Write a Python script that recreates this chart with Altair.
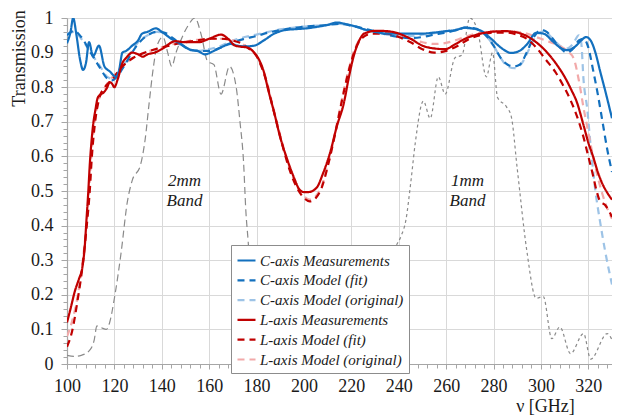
import altair as alt
import pandas as pd

# ---------------- data ----------------
SERIES = ["C-axis Measurements", "C-axis Model (fit)", "C-axis Model (original)",
          "L-axis Measurements", "L-axis Model (fit)", "L-axis Model (original)"]
COLORS = ["#1370BE", "#1370BE", "#9DC3E6", "#C00000", "#C00000", "#F2A9A9"]
DASHES = [[1, 0], [7, 5], [7, 5], [1, 0], [7, 5], [7, 5]]

F_C_MEAS = [100, 101.5, 102.6, 104, 105.5, 106.8, 108, 109.3, 111, 113.5, 115.8, 118, 120.7, 122,
            123.4, 125, 127.5, 130, 131.7, 134, 137.5, 140, 144, 148, 152.5, 155, 158.2, 162, 165,
            169, 172, 175, 179, 183, 187.5, 192, 197, 201, 206, 210, 213.7, 218, 222, 226, 230, 234,
            238.7, 244, 250, 255, 260, 264, 268, 271, 275, 279, 283, 287.5, 291, 294, 298, 301,
            305.4, 308, 311, 314, 317, 319, 321, 323, 325, 327.5, 330]
T_C_MEAS = [0.927, 0.96, 1.0, 0.95, 0.88, 0.85, 0.87, 0.93, 0.89, 0.92, 0.86, 0.846, 0.83, 0.85,
            0.9, 0.905, 0.92, 0.935, 0.955, 0.96, 0.97, 0.96, 0.94, 0.925, 0.907, 0.905, 0.895,
            0.905, 0.915, 0.925, 0.92, 0.918, 0.92, 0.935, 0.955, 0.965, 0.968, 0.97, 0.975, 0.98,
            0.987, 0.982, 0.975, 0.966, 0.96, 0.955, 0.955, 0.955, 0.955, 0.958, 0.962, 0.965,
            0.972, 0.97, 0.962, 0.94, 0.915, 0.899, 0.905, 0.923, 0.957, 0.955, 0.93, 0.915, 0.907,
            0.915, 0.935, 0.945, 0.935, 0.9, 0.846, 0.78, 0.71]

F_C_FIT = [100, 103, 106, 110, 114, 117, 119, 121, 124, 127, 130, 134, 138, 141, 145, 150, 155,
           160, 165, 170, 175, 180, 185, 190, 200, 210, 215, 220, 225, 230, 235, 240, 245, 250,
           255, 260, 265, 268, 272, 276, 280, 283, 286, 288.5, 291, 294, 297, 300, 302, 305, 308,
           311, 314, 316, 318, 320, 322, 324, 326, 328, 330]
T_C_FIT = [0.95, 0.963, 0.945, 0.9, 0.855, 0.825, 0.82, 0.83, 0.86, 0.895, 0.925, 0.95, 0.96,
           0.958, 0.94, 0.915, 0.905, 0.905, 0.915, 0.93, 0.94, 0.948, 0.958, 0.965, 0.975, 0.98,
           0.983, 0.978, 0.97, 0.962, 0.952, 0.945, 0.942, 0.945, 0.952, 0.958, 0.966, 0.972, 0.97,
           0.955, 0.92, 0.885, 0.865, 0.86, 0.865, 0.9, 0.945, 0.965, 0.962, 0.94, 0.915, 0.9,
           0.915, 0.935, 0.94, 0.915, 0.85, 0.78, 0.7, 0.62, 0.555]

F_C_ORIG = [100, 103, 106, 110, 114, 117, 119, 121, 124, 127, 130, 134, 138, 141, 145, 150, 155,
            160, 165, 170, 175, 180, 185, 190, 200, 210, 215, 220, 225, 230, 235, 240, 245, 250,
            255, 260, 265, 268, 272, 276, 280, 283, 286, 289, 292, 295, 298, 300, 302, 305, 308,
            311, 313.5, 316, 317, 318, 319.5, 321, 323, 325, 327, 330]
T_C_ORIG = [0.955, 0.96, 0.94, 0.9, 0.86, 0.83, 0.825, 0.835, 0.865, 0.9, 0.93, 0.95, 0.96, 0.955,
            0.935, 0.915, 0.905, 0.91, 0.92, 0.935, 0.945, 0.952, 0.96, 0.967, 0.975, 0.98, 0.983,
            0.978, 0.968, 0.96, 0.952, 0.948, 0.948, 0.952, 0.956, 0.962, 0.968, 0.97, 0.968,
            0.955, 0.92, 0.885, 0.86, 0.855, 0.87, 0.91, 0.95, 0.96, 0.958, 0.94, 0.92, 0.912,
            0.925, 0.95, 0.93, 0.82, 0.74, 0.63, 0.5, 0.41, 0.33, 0.23]

F_L_MEAS = [100, 101.5, 103.3, 105, 106.5, 107.5, 108.2, 109, 109.6, 110.3, 111, 112, 113, 114.4,
            115.5, 117, 118, 119, 120, 121.4, 123.4, 125, 127.5, 130, 132, 134, 137, 140, 145.7,
            150, 155.4, 160, 165, 168, 171, 173.4, 176, 179, 181, 183, 185, 187.5, 190, 193, 196,
            198, 200, 202, 205.4, 208, 211, 214, 216.7, 219, 220.8, 223, 225.4, 230.4, 235, 240,
            245, 250, 255, 259.6, 264, 268, 273, 279, 285, 290, 294, 298, 302, 306.7, 310, 313,
            315, 318, 320, 322, 324, 326, 328, 330]
T_L_MEAS = [0.12, 0.16, 0.21, 0.245, 0.28, 0.34, 0.415, 0.5, 0.575, 0.64, 0.69, 0.735, 0.77, 0.78,
            0.785, 0.8, 0.815, 0.81, 0.8, 0.823, 0.87, 0.885, 0.9, 0.895, 0.888, 0.895, 0.9, 0.91,
            0.933, 0.93, 0.93, 0.94, 0.952, 0.94, 0.92, 0.917, 0.915, 0.9, 0.88, 0.846, 0.79,
            0.725, 0.655, 0.59, 0.535, 0.505, 0.497, 0.497, 0.51, 0.55, 0.61, 0.69, 0.75, 0.83,
            0.885, 0.93, 0.955, 0.963, 0.962, 0.955, 0.94, 0.92, 0.912, 0.91, 0.925, 0.94, 0.952,
            0.96, 0.962, 0.958, 0.948, 0.93, 0.905, 0.865, 0.83, 0.79, 0.76, 0.69, 0.64, 0.6,
            0.555, 0.52, 0.495, 0.475]

F_L_FIT = [100, 102, 104.6, 106.5, 108.2, 109.6, 110.5, 111.7, 113.7, 116, 118, 120, 122, 125,
           128, 131, 135, 140, 145, 150, 155, 160, 165, 170, 174, 177, 180, 182, 184, 186, 188,
           191, 194, 197, 200, 202.5, 205, 207.5, 210, 213, 216, 219, 222, 225, 229, 235, 240,
           245, 250, 255, 260, 265, 270, 275, 280, 285, 290, 294, 298, 302, 306, 309, 312, 315,
           318, 320, 322, 323.5, 325, 327, 328.5, 330]
T_L_FIT = [0.05, 0.09, 0.19, 0.28, 0.39, 0.5, 0.6, 0.69, 0.77, 0.8, 0.815, 0.83, 0.85, 0.87,
           0.885, 0.895, 0.905, 0.915, 0.923, 0.93, 0.935, 0.94, 0.94, 0.935, 0.925, 0.91, 0.89,
           0.86, 0.82, 0.765, 0.71, 0.63, 0.56, 0.51, 0.48, 0.47, 0.48, 0.51, 0.57, 0.66, 0.76,
           0.85, 0.915, 0.945, 0.955, 0.955, 0.945, 0.93, 0.91, 0.9, 0.905, 0.92, 0.94, 0.952,
           0.958, 0.958, 0.952, 0.94, 0.915, 0.88, 0.845, 0.81, 0.77, 0.72, 0.655, 0.6, 0.545,
           0.5, 0.47, 0.46, 0.445, 0.425]

F_L_ORIG = [100, 102, 104.6, 106.5, 108.2, 109.6, 110.5, 111.7, 113.7, 116, 118, 120, 122, 125,
            128, 131, 135, 140, 145, 150, 155, 160, 165, 170, 174, 177, 180, 182, 184, 186, 188,
            191, 194, 197, 200, 202.5, 205, 207.5, 210, 213, 216, 219, 222, 225, 229, 235, 240,
            245, 250, 255, 260, 265, 270, 275, 280, 285, 290, 294, 298, 302, 306, 309, 312, 314,
            316, 318, 320, 322, 324, 326, 328, 330]
T_L_ORIG = [0.08, 0.12, 0.2, 0.29, 0.4, 0.52, 0.62, 0.7, 0.77, 0.8, 0.82, 0.835, 0.85, 0.87, 0.885,
            0.895, 0.905, 0.915, 0.925, 0.932, 0.937, 0.94, 0.94, 0.935, 0.925, 0.91, 0.89, 0.862,
            0.825, 0.77, 0.715, 0.635, 0.565, 0.515, 0.485, 0.475, 0.485, 0.515, 0.575, 0.665,
            0.765, 0.855, 0.92, 0.948, 0.958, 0.958, 0.952, 0.94, 0.93, 0.925, 0.928, 0.938, 0.95,
            0.958, 0.962, 0.962, 0.96, 0.955, 0.945, 0.935, 0.925, 0.915, 0.9, 0.88, 0.82, 0.74,
            0.67, 0.6, 0.54, 0.49, 0.45, 0.42]

# atmospheric windows (grey, not in legend)
F_ATM_2MM = [100, 103, 106, 109.6, 111.5, 112.6, 114.5, 116.6, 118, 120, 122.8, 125.5, 127.5, 131,
             133, 134.6, 136.5, 138, 140.5, 142.5, 144.2, 146, 148, 151, 154, 156.7, 159.3, 162,
             165, 168.6, 171.4, 173, 174.5, 175.5, 176.5, 177.8, 179.5, 181.5, 184.6, 190, 197,
             202, 205]
T_ATM_2MM = [0.025, 0.022, 0.025, 0.04, 0.07, 0.11, 0.105, 0.1, 0.12, 0.19, 0.32, 0.47, 0.53,
             0.575, 0.65, 0.75, 0.86, 0.92, 0.945, 0.9, 0.86, 0.9, 0.935, 0.977, 1.0, 0.95, 0.875,
             0.865, 0.78, 0.86, 0.8, 0.7, 0.585, 0.44, 0.35, 0.2, 0.1, 0.05, 0.017, 0.015, 0.014,
             0.003, 0.017]

F_ATM_1MM = [205, 215, 222, 228, 233, 236, 238.75, 241, 243, 245, 247, 250.4, 253.3, 256.7, 259.6,
             263.75, 266.7, 270, 273.4, 277, 279.6, 281.7, 285.4, 287.5, 290, 294, 298, 301, 304.6,
             308, 312.5, 318, 321, 328, 330]
T_ATM_1MM = [0.01, 0.03, 0.07, 0.15, 0.25, 0.3, 0.34, 0.37, 0.415, 0.52, 0.64, 0.76, 0.71, 0.83,
             0.78, 0.885, 0.893, 1.0, 0.96, 0.83, 0.9, 0.77, 0.744, 0.715, 0.565, 0.33, 0.19,
             0.195, 0.073, 0.107, 0.03, 0.088, 0.014, 0.088, 0.07]

BAND_TEXT = ["2mm", "Band", "1mm", "Band"]
BAND_F = [149.6, 149.6, 269.0, 269.0]
BAND_T = [0.53, 0.472, 0.53, 0.472]

X_TICKS = list(range(100, 330, 4))
Y_TICKS = [round(i * 0.02, 2) for i in range(51)]

# ---------------- build tables ----------------
CURVES = [(F_C_MEAS, T_C_MEAS), (F_C_FIT, T_C_FIT), (F_C_ORIG, T_C_ORIG),
          (F_L_MEAS, T_L_MEAS), (F_L_FIT, T_L_FIT), (F_L_ORIG, T_L_ORIG)]
DRAW_ORDER = [2, 5, 1, 4, 0, 3]

rows = []
for i in DRAW_ORDER:
    fs, ts = CURVES[i]
    for f, t in zip(fs, ts):
        rows.append({"f": f, "T": t, "series": SERIES[i]})
curves_df = pd.DataFrame(rows)

atm2 = pd.DataFrame({"f": F_ATM_2MM, "T": T_ATM_2MM})
atm1 = pd.DataFrame({"f": F_ATM_1MM, "T": T_ATM_1MM})
bands = pd.DataFrame({"label": BAND_TEXT, "f": BAND_F, "T": BAND_T})

FONT = "Liberation Serif, Times New Roman, serif"
TXT = "#1a1a1a"

x_scale = alt.Scale(domain=[100, 330], nice=False, zero=False)
y_scale = alt.Scale(domain=[0, 1], nice=False)

x_major = "datum.value % 20 == 0"
y_major = "abs(datum.value*10 - round(datum.value*10)) < 0.001"

x_axis = alt.Axis(
    values=X_TICKS, title="ν [GHz]", titleFont=FONT, titleFontSize=18, titleFontWeight="normal",
    titleColor=TXT, titleX=478, titleY=42, titleBaseline="middle", titleAlign="center",
    labelExpr=f"{x_major} ? format(datum.value, 'd') : ''", labelFont=FONT, labelFontSize=18,
    labelColor=TXT, labelPadding=8, labelOverlap=False, labelFlush=False,
    tickSize={"condition": {"test": x_major, "value": 5}, "value": 4},
    tickColor="#a6a6a6", domainColor="#a6a6a6", domainWidth=1.2,
    grid=True, gridColor="#d9d9d9",
    gridOpacity={"condition": {"test": x_major, "value": 1}, "value": 0},
)
y_axis = alt.Axis(
    values=Y_TICKS, title="Transmission", titleFont=FONT, titleFontSize=18,
    titleFontWeight="normal", titleColor=TXT, titleAngle=270, titleX=-48, titleY=40,
    titleAlign="center", titleBaseline="middle",
    labelExpr=f"{y_major} ? (datum.value == 0 ? '0' : (datum.value == 1 ? '1' : format(datum.value, '.1f'))) : ''",
    labelFont=FONT, labelFontSize=18, labelColor=TXT, labelPadding=8,
    labelOverlap=False, labelFlush=False,
    tickSize={"condition": {"test": y_major, "value": 6}, "value": 4},
    tickColor="#a6a6a6", domainColor="#a6a6a6", domainWidth=1.2,
    grid=True, gridColor="#d9d9d9",
    gridOpacity={"condition": {"test": y_major, "value": 1}, "value": 0},
)

legend = alt.Legend(
    orient="none", legendX=164, legendY=227, fillColor="white", strokeColor="#8c8c8c",
    padding=5, labelFont=FONT, labelFontStyle="italic", labelFontSize=15, labelColor=TXT,
    symbolType="stroke", symbolSize=324, symbolStrokeWidth=2.2, rowPadding=0.8, labelOffset=3,
    labelLimit=300,
)

base_x = alt.X("f:Q", scale=x_scale, axis=x_axis)
base_y = alt.Y("T:Q", scale=y_scale, axis=y_axis)

atm2_layer = alt.Chart(atm2).mark_line(
    color="#8a8a8a", strokeWidth=1.2, strokeDash=[7, 4], interpolate="monotone", clip=True
).encode(x=base_x, y=base_y)

atm1_layer = alt.Chart(atm1).mark_line(
    color="#8a8a8a", strokeWidth=1.2, strokeDash=[3, 3], interpolate="monotone", clip=True
).encode(x=base_x, y=base_y)

curves_layer = alt.Chart(curves_df).mark_line(
    strokeWidth=2.2, interpolate="monotone", clip=True
).encode(
    x=base_x, y=base_y,
    color=alt.Color("series:N", title=None, scale=alt.Scale(domain=SERIES, range=COLORS),
                    legend=legend, sort=SERIES),
    strokeDash=alt.StrokeDash("series:N", title=None, scale=alt.Scale(domain=SERIES, range=DASHES),
                              legend=legend, sort=SERIES),
)

text_layer = alt.Chart(bands).mark_text(
    font=FONT, fontSize=17, fontStyle="italic", color=TXT, baseline="middle", align="center"
).encode(x=base_x, y=base_y, text="label:N")

chart = alt.layer(atm2_layer, atm1_layer, curves_layer, text_layer).properties(
    width=545, height=346,
    padding={"left": 59, "top": 10, "right": 0, "bottom": 53},
    autosize=alt.AutoSizeParams(type="none"),
).configure_view(strokeWidth=0).configure(background="white")

chart.save("out.html", embed_options={"renderer": "svg", "actions": False})
